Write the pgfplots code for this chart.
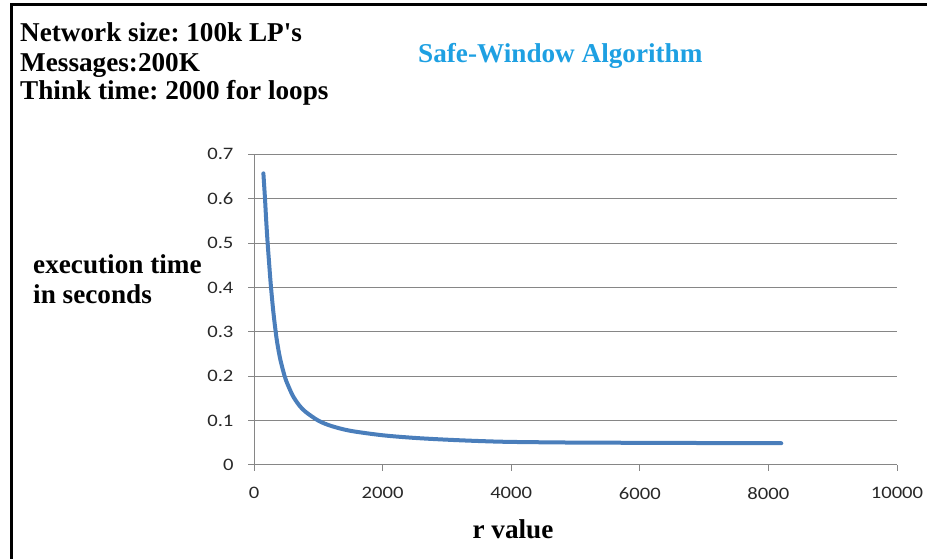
\documentclass[border=0pt]{standalone}
\usepackage{fontspec}
\usepackage{pgfplots}
\pgfplotsset{compat=1.18}
\newfontfamily\titlefont{Liberation Serif}
\newfontfamily\tickfont[FakeStretch=1.18]{Carlito}
\definecolor{curve}{RGB}{74,126,187}
\definecolor{gridc}{RGB}{134,134,134}
\definecolor{titleblue}{RGB}{30,160,226}
\definecolor{tickc}{RGB}{40,40,40}
\newcommand{\tf}{\titlefont\bfseries\fontsize{27.2}{30}\selectfont\frenchspacing}
\begin{document}
\begin{tikzpicture}
\path[use as bounding box] (0pt,0pt) rectangle (927pt,559pt);
\draw[line width=2.5pt] (11.5pt,0pt) -- (11.5pt,554.5pt) -- (927pt,554.5pt);
\begin{axis}[
  at={(254pt,94pt)}, anchor=south west,
  scale only axis, width=643pt, height=310.7pt,
  xmin=0, xmax=10000, ymin=0, ymax=0.7,
  axis lines*=left,
  axis line style={gridc, line width=1pt},
  xtick={0,2000,4000,6000,8000,10000},
  ytick={0,0.1,0.2,0.3,0.4,0.5,0.6,0.7},
  scaled x ticks=false, scaled y ticks=false,
  ymajorgrids, grid style={gridc, line width=1pt},
  tick align=outside, major tick length=6pt,
  tick style={gridc, line width=1pt},
  ticklabel style={font=\tickfont\fontsize{17.5}{20}\selectfont, text=tickc},
  /pgf/number format/assume math mode=true,
  /pgf/number format/1000 sep={},
  xticklabel style={/pgf/number format/fixed, /pgf/number format/precision=0, yshift=-13pt},
  yticklabel style={/pgf/number format/fixed, /pgf/number format/precision=1, xshift=-11pt},
  clip=false,
]
\addplot[curve, line width=4pt, smooth, line cap=round, line join=round] coordinates {
(146,0.657) (171,0.600) (190,0.550) (212,0.500) (235,0.455) (260,0.408)
(300,0.346) (350,0.286) (400,0.244) (450,0.214) (500,0.190) (600,0.157)
(700,0.135) (800,0.120) (1000,0.100) (1200,0.088) (1500,0.077) (2000,0.067)
(2500,0.061) (3000,0.057) (3500,0.054) (4000,0.052) (5000,0.0505) (6000,0.050)
(7000,0.0495) (8200,0.049)
};
\end{axis}
\begin{scope}[every node/.style={inner sep=0pt}]
\node[anchor=base west, font=\tf] at (20pt,517.3pt) {Network size: 100k LP's};
\node[anchor=base west, font=\tf] at (20pt,487.3pt) {Messages:200K};
\node[anchor=base west, font=\tf] at (20pt,459pt) {Think time: 2000 for loops};
\node[anchor=base west, text=titleblue, font=\tf] at (418pt,496.7pt) {Safe-Window Algorithm};
\node[anchor=base west, font=\tf] at (33pt,285pt) {execution time};
\node[anchor=base west, font=\tf] at (33pt,255.7pt) {in seconds};
\node[anchor=base, font=\tf] at (513pt,20.7pt) {r value};
\end{scope}
\end{tikzpicture}
\end{document}
